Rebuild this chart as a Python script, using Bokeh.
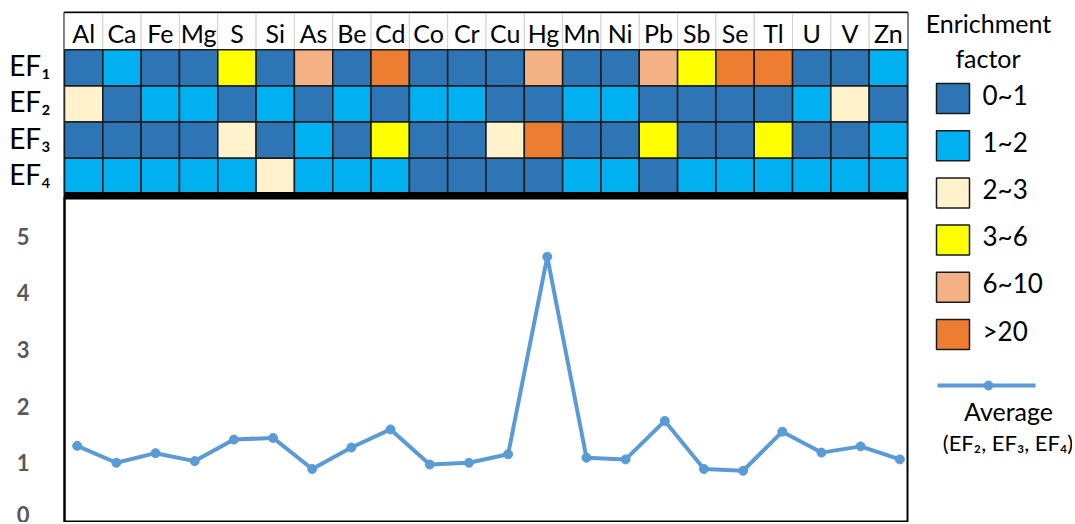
from bokeh.plotting import figure
from bokeh.models import (ColumnDataSource, Range1d, Span, FixedTicker, LinearAxis,
                          CustomJSTickFormatter)
from bokeh.layouts import row, column
from bokeh.embed import file_html
from bokeh.resources import INLINE
from bokeh.core.properties import value

# ---------------- data ----------------
elements = ["Al", "Ca", "Fe", "Mg", "S", "Si", "As", "Be", "Cd", "Co", "Cr",
            "Cu", "Hg", "Mn", "Ni", "Pb", "Sb", "Se", "Tl", "U", "V", "Zn"]
# enrichment class index per element (0: 0~1, 1: 1~2, 2: 2~3, 3: 3~6, 4: 6~10, 5: >20)
ef1 = [0, 1, 0, 0, 3, 0, 4, 0, 5, 0, 0, 0, 4, 0, 0, 4, 3, 5, 5, 0, 0, 1]
ef2 = [2, 0, 1, 1, 0, 1, 0, 1, 0, 1, 1, 0, 0, 1, 1, 0, 0, 0, 0, 1, 2, 0]
ef3 = [0, 0, 0, 0, 2, 0, 1, 0, 3, 0, 0, 2, 5, 0, 0, 3, 0, 0, 3, 0, 0, 1]
ef4 = [1, 1, 1, 1, 1, 2, 1, 1, 1, 0, 0, 0, 0, 1, 1, 0, 1, 1, 1, 1, 1, 1]
ef_row_labels = ["EF\u2081", "EF\u2082", "EF\u2083", "EF\u2084"]
class_labels = ["0~1", "1~2", "2~3", "3~6", "6~10", ">20"]
class_colors = ["#2E75B6", "#00B0F0", "#FFF2CC", "#FFFF00", "#F4B183", "#ED7D31"]
average = [1.30, 1.00, 1.17, 1.03, 1.41, 1.44, 0.89, 1.27, 1.59, 0.97, 1.00,
           1.15, 4.64, 1.09, 1.06, 1.74, 0.89, 0.86, 1.55, 1.18, 1.29, 1.06]
y_ticks = [0, 1, 2, 3, 4, 5]
legend_title = ["Enrichment", "factor"]
line_label = "Average"
line_sub_label = "(EF\u2082, EF\u2083, EF\u2084)"

FONT = "Lato"
LINE_COLOR = "#5B9BD5"
ROW_PX = 36.2            # pixel height of one heat-map row

n_el = len(elements)
rows_vals = [ef1, ef2, ef3, ef4]
n_rows = len(rows_vals)

# ---------------- heatmap ----------------
heat = figure(width=911, height=196,
              x_range=Range1d(0, n_el),
              y_range=Range1d(-2 / ROW_PX, 182 / ROW_PX),
              x_axis_location=None, y_axis_location=None,
              output_backend="svg", toolbar_location=None,
              min_border_left=64, min_border_right=4,
              min_border_top=12, min_border_bottom=0)
heat.grid.visible = False
heat.outline_line_color = "black"
heat.outline_line_width = 2

col_x = [i + 0.5 for i in range(n_el)]
hdr_y = n_rows + 0.5

# header row
heat.rect(x=col_x, y=[hdr_y] * n_el, width=1, height=1,
          fill_color="white", line_color="#D0D0D0", line_width=1)
heat.text(x=col_x, y=[hdr_y - 0.04] * n_el, text=elements,
          text_font=value(FONT), text_font_size="25px", text_align="center",
          text_baseline="middle", text_color="black")

# cells
xs, ys, cols = [], [], []
for r, vals in enumerate(rows_vals):
    for i, v in enumerate(vals):
        xs.append(i + 0.5)
        ys.append(n_rows - r - 0.5)
        cols.append(class_colors[v])
heat.rect(x="x", y="y", width=1, height=1, fill_color="color",
          line_color="#1A1A1A", line_width=1.5,
          source=ColumnDataSource(dict(x=xs, y=ys, color=cols)))

# thick bottom line
heat.segment(x0=[0], y0=[0], x1=[n_el], y1=[0], line_color="black", line_width=5)

# row labels (EF1..EF4) as a left axis
row_ticks = [n_rows - r - 0.5 + 0.07 for r in range(n_rows)]   # EF1 on top
row_axis = LinearAxis(
    ticker=FixedTicker(ticks=sorted(row_ticks)),
    formatter=CustomJSTickFormatter(args=dict(labels=ef_row_labels[::-1]),
                                    code="return labels[index];"),
    axis_line_color=None, major_tick_line_color=None, minor_tick_line_color=None,
    major_tick_out=0, major_tick_in=0, major_label_standoff=14,
    major_label_text_font=FONT, major_label_text_font_size="28px",
    major_label_text_color="black")
heat.add_layout(row_axis, "left")

# ---------------- line chart ----------------
line = figure(width=911, height=326,
              x_range=Range1d(-0.324, 21.196), y_range=Range1d(-0.055, 5.705),
              x_axis_location=None,
              output_backend="svg", toolbar_location=None,
              min_border_left=64, min_border_right=4,
              min_border_top=0, min_border_bottom=0)
line.grid.visible = False
line.outline_line_color = "black"
line.outline_line_width = 2
idx = list(range(n_el))
line.line(idx, average, line_color=LINE_COLOR, line_width=4)
line.scatter(idx, average, size=9, fill_color=LINE_COLOR, line_color=LINE_COLOR)
line.add_layout(Span(location=5.705, dimension="width", line_color="black",
                     line_width=6))

ya = line.yaxis[0]
ya.ticker = FixedTicker(ticks=y_ticks)
ya.axis_line_color = "black"
ya.axis_line_width = 2
ya.major_tick_line_color = None
ya.minor_tick_line_color = None
ya.major_tick_out = 0
ya.major_tick_in = 0
ya.major_label_standoff = 35
ya.major_label_text_font = FONT
ya.major_label_text_font_style = "bold"
ya.major_label_text_font_size = "22px"
ya.major_label_text_color = "#595959"

# ---------------- legend ----------------
leg = figure(width=161, height=522, x_range=Range1d(0, 161), y_range=Range1d(522, 0),
             x_axis_location=None, y_axis_location=None,
             output_backend="svg", toolbar_location=None, min_border=0)
leg.grid.visible = False
leg.outline_line_color = None

n_cls = len(class_labels)
item_y = [98 + i * 47.2 for i in range(n_cls)]
leg.rect(x=[41.5] * n_cls, y=item_y, width=33, height=30,
         fill_color=class_colors, line_color="#1A1A1A", line_width=1.5)
leg.text(x=[71] * n_cls, y=[v - 4 for v in item_y], text=class_labels,
         text_font=value(FONT), text_font_size="26px", text_align="left",
         text_baseline="middle", text_color="black")
leg.text(x=[77, 76.5], y=[22.5, 57], text=legend_title,
         text_font=value(FONT), text_font_size="25px", text_align="center",
         text_baseline="middle", text_color="black")
leg.line(x=[26, 124], y=[385, 385], line_color=LINE_COLOR, line_width=4)
leg.scatter(x=[77], y=[385], size=9, fill_color=LINE_COLOR, line_color=LINE_COLOR)
leg.text(x=[97], y=[410.5], text=[line_label], text_font=value(FONT),
         text_font_size="25px", text_align="center", text_baseline="middle",
         text_color="black")
leg.text(x=[96.5], y=[442], text=[line_sub_label], text_font=value(FONT),
         text_font_size="22px", text_align="center", text_baseline="middle",
         text_color="black")

layout = row(column(heat, line), leg)
open("out.html", "w").write(file_html(layout, INLINE))
